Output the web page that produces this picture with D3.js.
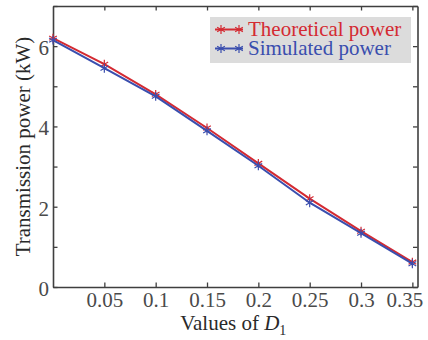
<!DOCTYPE html>
<html>
<head>
<meta charset="utf-8">
<script src="https://cdn.jsdelivr.net/npm/d3@7"></script>
<style>
  body { margin: 0; background: #fff; }
  svg { display: block; font-family: "Liberation Serif", "Times New Roman", serif; }
</style>
</head>
<body>
<svg id="chart"></svg>
<script>
// values
const d1Values = [0, 0.05, 0.1, 0.15, 0.2, 0.25, 0.3, 0.35];
const theoretical = [6.2, 5.55, 4.8, 3.96, 3.08, 2.2, 1.39, 0.62];
const simulated = [6.15, 5.45, 4.75, 3.89, 3.02, 2.1, 1.34, 0.58];
const xTicks = [0.05, 0.1, 0.15, 0.2, 0.25, 0.3, 0.35];
const yTicks = [0, 1, 2, 3, 4, 5, 6, 7];
const yLabels = [0, 2, 4, 6];
const seriesNames = ["Theoretical power", "Simulated power"];
const seriesColors = ["#d42a32", "#3a4eae"];

const width = 428, height = 340;
const margin = {top: 6, right: 10.5, bottom: 53, left: 53};
const w = width - margin.left - margin.right;
const h = height - margin.top - margin.bottom;
const axisColor = "#3f3f3f";

const svg = d3.select("#chart").attr("width", width).attr("height", height);
const g = svg.append("g").attr("transform", `translate(${margin.left},${margin.top})`);

const x = d3.scaleLinear().domain([0, 0.355]).range([0, w]);
const y = d3.scaleLinear().domain([0, 7]).range([h, 0]);

// axes (ticks pointing inward, box style)
const fmt = d => d3.format("")(d);
const xAxis = g.append("g").attr("transform", `translate(0,${h})`)
  .call(d3.axisBottom(x).tickValues(xTicks).tickSize(-4.5).tickSizeOuter(0).tickPadding(10).tickFormat(fmt));
const xTop = g.append("g")
  .call(d3.axisTop(x).tickValues(xTicks).tickSize(-4.5).tickSizeOuter(0).tickFormat(""));
const yAxis = g.append("g")
  .call(d3.axisLeft(y).tickValues(yTicks).tickSize(-4.5).tickSizeOuter(0).tickPadding(4)
    .tickFormat(d => yLabels.includes(d) ? d : ""));
const yRight = g.append("g").attr("transform", `translate(${w},0)`)
  .call(d3.axisRight(y).tickValues(yTicks).tickSize(-4.5).tickSizeOuter(0).tickFormat(""));

[xAxis, xTop, yAxis, yRight].forEach(a => {
  a.select(".domain").attr("stroke", axisColor).attr("stroke-width", 1.6);
  a.selectAll(".tick line").attr("stroke", axisColor).attr("stroke-width", 1.3);
  a.selectAll(".tick text").attr("fill", "#4a4a4a").attr("font-size", 21)
    .attr("font-family", "Liberation Serif, serif");
});
yAxis.selectAll(".tick text").attr("dy", "0.4em");
xAxis.selectAll(".tick text").attr("dy", "0.48em");
// last label is pushed left so it stays inside the figure
xAxis.selectAll(".tick text").filter(d => d === 0.35)
  .attr("text-anchor", "end").attr("x", 10.5);

// lines with asterisk markers
const line = d3.line().x((d, i) => x(d1Values[i])).y(d => y(d));
const star = d3.symbol().type(d3.symbolAsterisk).size(55);
const drawSeries = (vals, color) => {
  g.append("path").datum(vals)
    .attr("fill", "none").attr("stroke", color).attr("stroke-width", 2)
    .attr("d", line);
  g.selectAll(null).data(vals).join("path")
    .attr("transform", (d, i) => `translate(${x(d1Values[i])},${y(d)})`)
    .attr("d", star).attr("fill", "none").attr("stroke", color).attr("stroke-width", 1.2);
};
drawSeries(theoretical, seriesColors[0]);
drawSeries(simulated, seriesColors[1]);

// axis titles
const xTitle = svg.append("text")
  .attr("x", margin.left + w / 2 - 2).attr("y", 330)
  .attr("text-anchor", "middle").attr("font-size", 21).attr("fill", "#2a2a2a");
xTitle.append("tspan").text("Values of ");
xTitle.append("tspan").attr("font-style", "italic").text("D");
xTitle.append("tspan").attr("font-size", 14).attr("dy", 5).text("1");

svg.append("text")
  .attr("transform", `translate(30,${margin.top + h / 2}) rotate(-90)`)
  .attr("text-anchor", "middle").attr("font-size", 21).attr("fill", "#2a2a2a")
  .text("Transmission power (kW)");

// legend
const legend = svg.append("g");
legend.append("rect")
  .attr("x", 210).attr("y", 17).attr("width", 201).attr("height", 46)
  .attr("fill", "#dcdcdc");
seriesNames.forEach((name, i) => {
  const ly = 29.5 + i * 19;
  legend.append("line").attr("x1", 215).attr("x2", 243).attr("y1", ly).attr("y2", ly)
    .attr("stroke", seriesColors[i]).attr("stroke-width", 2);
  [221, 239].forEach(mx => {
    legend.append("path").attr("transform", `translate(${mx},${ly})`)
      .attr("d", star).attr("fill", "none").attr("stroke", seriesColors[i]).attr("stroke-width", 1.2);
  });
  legend.append("text").attr("x", 248).attr("y", 36 + i * 19)
    .attr("font-size", 21).attr("fill", seriesColors[i]).text(name);
});
</script>
</body>
</html>
